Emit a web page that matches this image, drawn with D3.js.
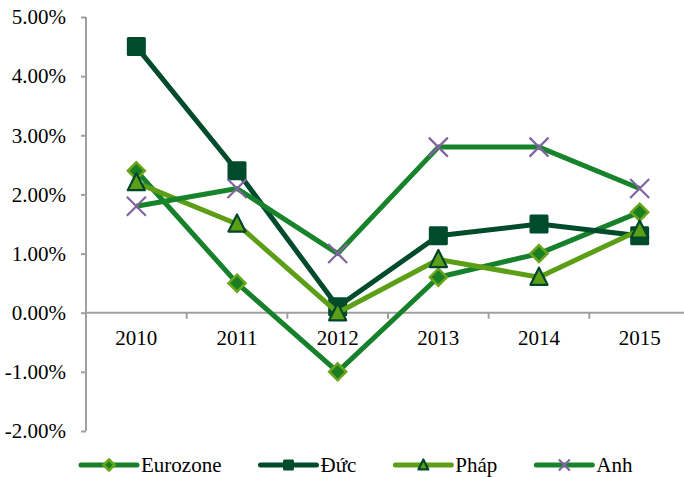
<!DOCTYPE html>
<html>
<head>
<meta charset="utf-8">
<script src="https://cdn.jsdelivr.net/npm/d3@7"></script>
<style>
  body { margin: 0; background: #fff; }
</style>
</head>
<body>
<div id="chart"></div>
<script>
const svgWidth = 684
const svgHeight = 477
const font = "Liberation Serif"

// data (percent)
const years = ["2010", "2011", "2012", "2013", "2014", "2015"]
const eurozone = [2.4, 0.5, -1.0, 0.6, 1.0, 1.7]
const duc = [4.5, 2.4, 0.1, 1.3, 1.5, 1.3]
const phap = [2.2, 1.5, 0.0, 0.9, 0.6, 1.4]
const anh = [1.8, 2.1, 1.0, 2.8, 2.8, 2.1]
const yTicks = [-2, -1, 0, 1, 2, 3, 4, 5]

const series = [
	{ name: "Eurozone", values: eurozone, line: "#16812a", marker: "diamond", fill: "#1a7f22", stroke: "#6aa51c" },
	{ name: "Đức", values: duc, line: "#004b2c", marker: "square", fill: "#004b2c", stroke: "#004b2c" },
	{ name: "Pháp", values: phap, line: "#5c9e16", marker: "triangle", fill: "#5c9e16", stroke: "#00462a" },
	{ name: "Anh", values: anh, line: "#17842b", marker: "cross", fill: "none", stroke: "#8064a2" }
]

const svg = d3.select("#chart")
	.append("svg")
	.attr("width", svgWidth)
	.attr("height", svgHeight)
	.attr("font-family", font)
	.attr("font-size", 21)

const x = d3.scaleBand().domain(years).range([86, 690])
const y = d3.scaleLinear().domain([-2, 5]).range([431, 17])
const axisColor = "#a0a0a0"

// y axis
const yAxis = svg.append("g")
	.attr("transform", "translate(86,0)")
	.call(d3.axisLeft(y).tickValues(yTicks).tickSize(5).tickPadding(15)
		.tickFormat(d => d.toFixed(2) + "%"))
	.attr("font-family", font)
	.attr("font-size", 21)
yAxis.select(".domain").attr("stroke", axisColor).attr("stroke-width", 2)
	.attr("d", `M0,${y(5)}V${y(-2)}`)
yAxis.selectAll(".tick line").attr("stroke", axisColor).attr("stroke-width", 2)
yAxis.selectAll(".tick text").attr("fill", "#000")

// x axis at zero
const xAxis = svg.append("g")
	.attr("transform", `translate(0,${y(0)})`)
xAxis.append("line")
	.attr("x1", x.range()[0]).attr("x2", x.range()[1])
	.attr("stroke", axisColor).attr("stroke-width", 2)
xAxis.selectAll(".tk")
	.data(years)
	.enter().append("line")
	.attr("x1", d => x(d) + x.bandwidth())
	.attr("x2", d => x(d) + x.bandwidth())
	.attr("y1", 0).attr("y2", 6)
	.attr("stroke", axisColor).attr("stroke-width", 2)
xAxis.selectAll("text")
	.data(years)
	.enter().append("text")
	.attr("x", d => x(d) + x.bandwidth() / 2)
	.attr("y", 32)
	.attr("text-anchor", "middle")
	.text(d => d)

const line = d3.line()
	.x((d, i) => x(years[i]) + x.bandwidth() / 2)
	.y(d => y(d))

function drawMarker(g, type, size, fill, stroke) {
	const h = size / 2
	if (type === "diamond") {
		g.append("path").attr("d", `M0,${-h}L${h},0L0,${h}L${-h},0Z`)
			.attr("fill", fill).attr("stroke", stroke).attr("stroke-width", 2.5)
	} else if (type === "square") {
		g.append("rect").attr("x", -h).attr("y", -h).attr("width", size).attr("height", size)
			.attr("rx", 1.5).attr("fill", fill)
	} else if (type === "triangle") {
		g.append("path").attr("d", `M0,${-h}L${h * 0.9},${h * 0.8}L${-h * 0.9},${h * 0.8}Z`)
			.attr("fill", fill).attr("stroke", stroke).attr("stroke-width", 2.2)
			.attr("stroke-linejoin", "round")
	} else if (type === "cross") {
		g.append("path").attr("d", `M${-h},${-h}L${h},${h}M${-h},${h}L${h},${-h}`)
			.attr("stroke", stroke).attr("stroke-width", 2.2)
	}
}

const plot = svg.append("g")
for (const s of series) {
	const g = plot.append("g")
	g.append("path")
		.datum(s.values)
		.attr("d", line)
		.attr("fill", "none")
		.attr("stroke", s.line)
		.attr("stroke-width", 5)
		.attr("stroke-linejoin", "round")
	g.selectAll(".m")
		.data(s.values)
		.enter().append("g")
		.attr("transform", (d, i) => `translate(${x(years[i]) + x.bandwidth() / 2},${y(d)})`)
		.each(function () {
			drawMarker(d3.select(this), s.marker, s.marker === "diamond" ? 17 : 19, s.fill, s.stroke)
		})
}

// legend
const legend = svg.append("g").attr("transform", "translate(81,465)")
let lx = 0
for (const s of series) {
	const item = legend.append("g").attr("transform", `translate(${lx},0)`)
	item.append("line").attr("x1", 0).attr("x2", 56)
		.attr("stroke", s.line).attr("stroke-width", 5).attr("stroke-linecap", "round")
	const m = item.append("g").attr("transform", "translate(28,0)")
	drawMarker(m, s.marker, 11, s.fill, s.stroke)
	const t = item.append("text").attr("x", 60).attr("y", 7).text(s.name)
	lx += 60 + t.node().getComputedTextLength() + 39
}
</script>
</body>
</html>
